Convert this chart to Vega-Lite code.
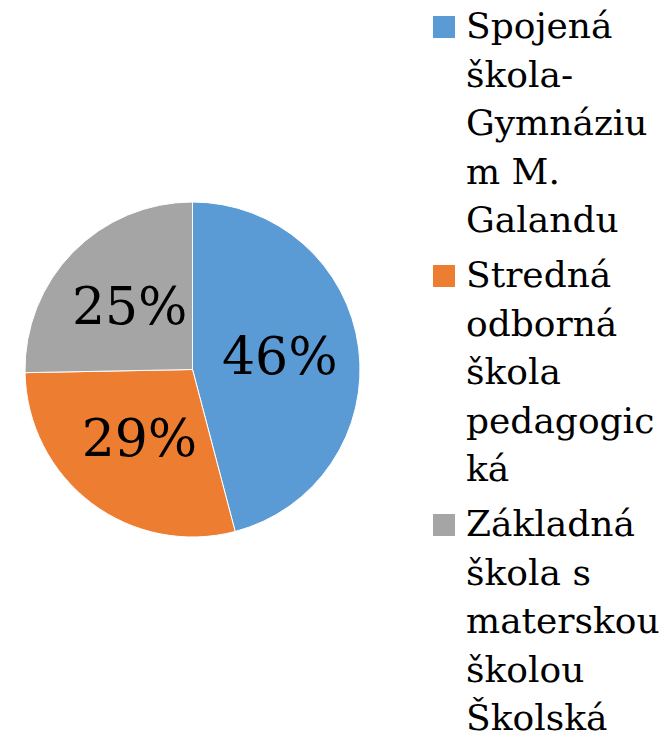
{
  "$schema": "https://vega.github.io/schema/vega-lite/v6.json",
  "width": 335,
  "height": 739,
  "autosize": {"type": "none"},
  "padding": {"left": 25, "top": 0, "right": 312, "bottom": 0},
  "background": "white",
  "data": {
    "values": [
      {"school": "Spojená škola-Gymnázium M. Galandu", "value": 45.9, "label": "46%", "idx": 1},
      {"school": "Stredná odborná škola pedagogická", "value": 28.8, "label": "29%", "idx": 2},
      {"school": "Základná škola s materskou školou Školská", "value": 25.3, "label": "25%", "idx": 3}
    ]
  },
  "encoding": {
    "theta": {"field": "value", "type": "quantitative", "stack": true},
    "order": {"field": "idx", "type": "quantitative"}
  },
  "layer": [
    {
      "mark": {"type": "arc", "stroke": "white", "strokeWidth": 1},
      "encoding": {
        "color": {
          "field": "school",
          "type": "nominal",
          "sort": null,
          "scale": {
            "domain": ["Spojená škola-Gymnázium M. Galandu", "Stredná odborná škola pedagogická", "Základná škola s materskou školou Školská"],
            "range": ["#5B9BD5", "#ED7D31", "#A5A5A5"]
          },
          "legend": {
            "title": null,
            "orient": "none",
            "legendX": 401,
            "legendY": 9,
            "symbolType": "square",
            "symbolSize": 484,
            "symbolStrokeWidth": 0,
            "labelFont": "DejaVu Serif",
            "labelFontSize": 36,
            "labelColor": "black",
            "labelLimit": 400,
            "labelOffset": 4,
            "rowPadding": 19,
            "labelExpr": "datum.label == 'Spojená škola-Gymnázium M. Galandu' ? ['Spojená','škola-','Gymnáziu','m M.','Galandu'] : datum.label == 'Stredná odborná škola pedagogická' ? ['Stredná','odborná','škola','pedagogic','ká'] : ['Základná','škola s','materskou','školou','Školská']"
          }
        }
      }
    },
    {
      "mark": {"type": "text", "radius": 88, "font": "DejaVu Serif", "fontSize": 52, "baseline": "middle", "align": "center"},
      "encoding": {
        "text": {"field": "label", "type": "nominal"},
        "detail": {"field": "school", "type": "nominal"},
        "color": {"value": "black"}
      }
    }
  ],
  "config": {
    "view": {"stroke": null},
    "style": {"guide-label": {"lineHeight": 48.5}}
  }
}
